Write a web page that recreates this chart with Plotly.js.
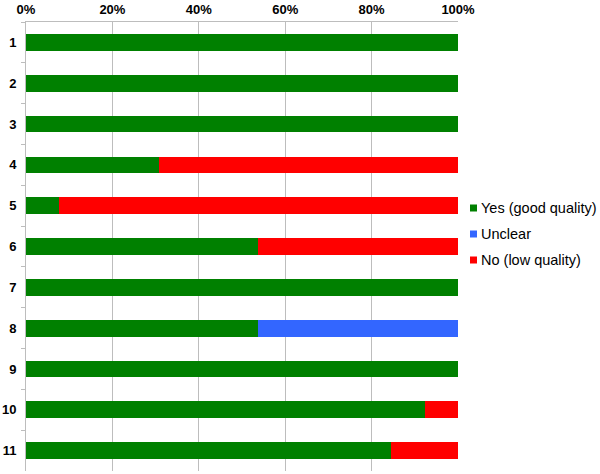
<!DOCTYPE html>
<html><head><meta charset="utf-8">
<script src="https://cdn.plot.ly/plotly-3.0.1.min.js"></script>
<style>body{margin:0;background:#fff}#c{width:600px;height:474px}</style>
</head><body><div id="c"></div>
<script>
const categories = ['1','2','3','4','5','6','7','8','9','10','11'];
const yesGood = [100,100,100,30.8,7.7,53.8,100,53.8,100,92.3,84.6];
const unclear = [0,0,0,0,0,0,0,46.2,0,0,0];
const noLow = [0,0,0,69.2,92.3,46.2,0,0,0,7.7,15.4];
const seriesNames = ['Yes (good quality)','Unclear','No (low quality)'];
const colors = ['#008000','#3366FF','#FF0000'];

const W = 600, H = 474, mL = 26, mR = 142, mT = 22, mB = 3;
const pw = W - mL - mR, ph = H - mT - mB;
const px2x = p => (p - mL) / pw;
const py2y = p => (H - mB - p) / ph;

const traces = [yesGood, unclear, noLow].map((v,i)=>({
  type:'bar', orientation:'h', x:v, y:categories, name:seriesNames[i],
  marker:{color:colors[i], line:{width:0}}, hoverinfo:'x+name'
}));

// manual legend (matches original's tight symbol/text spacing)
const legendY = [208, 234, 260];
const shapes = [], annotations = [];
seriesNames.forEach((n,i)=>{
  shapes.push({type:'rect', xref:'paper', yref:'paper',
    x0:px2x(470), x1:px2x(477), y0:py2y(legendY[i]+3.5), y1:py2y(legendY[i]-3.5),
    fillcolor:colors[i], line:{width:0}});
  annotations.push({xref:'paper', yref:'paper', x:px2x(479), y:py2y(legendY[i]),
    xanchor:'left', yanchor:'middle', text:n, showarrow:false,
    font:{size:14.5, color:'#000'}});
});

Plotly.newPlot('c', traces, {
  width:W, height:H, barmode:'stack', bargap:0.59,
  margin:{l:mL, r:mR, t:mT, b:mB, autoexpand:false},
  paper_bgcolor:'#fff', plot_bgcolor:'#fff',
  font:{family:'Liberation Sans, Arial, sans-serif', color:'#000'},
  xaxis:{side:'top', range:[0,100], dtick:20, ticksuffix:'%', showgrid:true,
    gridcolor:'#bdbdbd', gridwidth:1, zeroline:false, showline:true, linecolor:'#bdbdbd',
    tickfont:{size:13, weight:'bold'}, ticks:'', ticklabelstandoff:2},
  yaxis:{autorange:'reversed', type:'category', showgrid:false, zeroline:false,
    showline:true, linecolor:'#bdbdbd', ticks:'outside', ticklen:4, tickcolor:'#bdbdbd',
    tickson:'boundaries', tickfont:{size:13, weight:'bold'}, ticklabelstandoff:6},
  showlegend:false,
  shapes:shapes, annotations:annotations
}, {staticPlot:true});
</script></body></html>
